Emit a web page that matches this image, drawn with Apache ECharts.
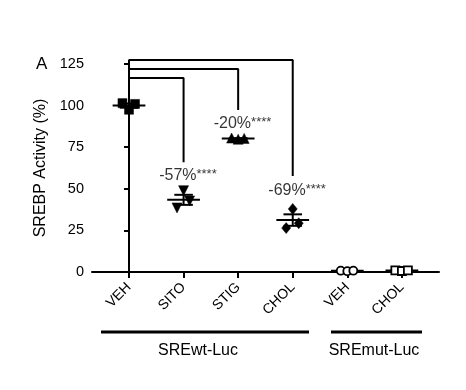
<!DOCTYPE html>
<html><head><meta charset="utf-8">
<script src="https://cdn.jsdelivr.net/npm/echarts@6/dist/echarts.min.js"></script>
<style>html,body{margin:0;padding:0;background:#fff}#c{width:466px;height:390px}</style>
</head><body><div id="c"></div>
<script>
// ---- data ----
var categories = ['VEH','SITO','STIG','CHOL','VEH','CHOL'];
var groups = ['SREwt-Luc','SREmut-Luc'];
var vehWt  = [101.5, 97.5, 101.0];
var sitoWt = [38.5, 48.9, 42.7];
var stigWt = [80.5, 79.8, 80.3];
var cholWt = [26.4, 37.9, 29.3];
var vehMut = [0.8, 0.5, 0.8];
var cholMut= [1.0, 0.6, 1.0];
var jitter = [-0.12, 0.0, 0.11];
var yTicks = [0, 25, 50, 75, 100, 125];
var annotations = [
  {cat:1, y:57.7, pct:'-57%', stars:'****'},
  {cat:2, y:89.0, pct:'-20%', stars:'****'},
  {cat:3, y:48.7, pct:'-69%', stars:'****'}
];
// bracket: from cat 0 to cat `to`, top level, bottom of target leg
var brackets = [
  {to:1, top:116.6, vehBottom:111, toBottom:66},
  {to:2, top:122.0, vehBottom:111, toBottom:97.4},
  {to:3, top:127.4, vehBottom:111, toBottom:57.7}
];

var sets = [vehWt, sitoWt, stigWt, cholWt, vehMut, cholMut];
function mean(a){return a.reduce(function(s,v){return s+v;},0)/a.length;}
function sem(a){var m=mean(a);var v=a.reduce(function(s,x){return s+(x-m)*(x-m);},0)/(a.length-1);return Math.sqrt(v/a.length);}

var markers = [
  {symbol:'rect', size:9, rot:0, fill:'#000'},
  {symbol:'triangle', size:10, rot:180, fill:'#000'},
  {symbol:'triangle', size:10, rot:0, fill:'#000'},
  {symbol:'diamond', size:[9,11], rot:0, fill:'#000'},
  {symbol:'circle', size:8, rot:0, fill:'#fff'},
  {symbol:'rect', size:8, rot:0, fill:'#fff'}
];

var series = [];
// mean & SEM bars
var statData = sets.map(function(a,i){return [i, mean(a), sem(a)];});
series.push({
  type:'custom', clip:false, z:2,
  data: statData,
  renderItem: function(params, api){
    var x = api.value(0), m = api.value(1), s = api.value(2);
    var p1 = api.coord([x-0.3, m]), p2 = api.coord([x+0.3, m]);
    var t1 = api.coord([x-0.17, m+s]), t2 = api.coord([x+0.17, m+s]);
    var b1 = api.coord([x-0.17, m-s]), b2 = api.coord([x+0.17, m-s]);
    var st = {stroke:'#000', lineWidth:2};
    var cx = t1[0]+(t2[0]-t1[0])/2;
    return {type:'group', children:[
      {type:'line', shape:{x1:p1[0],y1:p1[1],x2:p2[0],y2:p2[1]}, style:st},
      {type:'line', shape:{x1:t1[0],y1:t1[1],x2:t2[0],y2:t2[1]}, style:st},
      {type:'line', shape:{x1:b1[0],y1:b1[1],x2:b2[0],y2:b2[1]}, style:st},
      {type:'line', shape:{x1:cx,y1:t1[1],x2:cx,y2:b1[1]}, style:st}
    ]};
  }
});
// points
sets.forEach(function(a,i){
  var mk = markers[i];
  series.push({
    type:'scatter', z:3, clip:false,
    symbol: mk.symbol, symbolSize: mk.size, symbolRotate: mk.rot,
    itemStyle:{color:mk.fill, borderColor:'#000', borderWidth: mk.fill==='#fff'?1.8:0.5, opacity:1},
    data: a.map(function(v,k){return [i + jitter[k], v];})
  });
});
// brackets
brackets.forEach(function(b){
  series.push({
    type:'line', clip:false, symbol:'none', z:1, animation:false,
    lineStyle:{color:'#000', width:2},
    data:[[0,b.vehBottom],[0,b.top],[b.to,b.top],[b.to,b.toBottom]]
  });
});
// annotations
series.push({
  type:'scatter', symbolSize:0, z:4, clip:false,
  data: annotations.map(function(a){return {value:[a.cat+0.08, a.y], pct:a.pct, stars:a.stars};}),
  label:{show:true, position:'inside', color:'#000',
    formatter:function(p){return '{a|'+p.data.pct+'}{s|'+p.data.stars+'}';},
    rich:{a:{fontSize:16, fontFamily:'Liberation Sans', color:'#000'},
          s:{fontSize:13, fontFamily:'Liberation Sans', color:'#000', padding:[0,0,3,0]}}}
});

var option = {
  animation:false,
  backgroundColor:'#fff',
  grid:{left:92, right:27, top:64, bottom:118, containLabel:false},
  xAxis:{type:'value', min:-0.678, max:5.68,
    splitLine:{show:false},
    axisLine:{show:true, onZero:false, lineStyle:{color:'#000', width:2}},
    axisTick:{show:true, customValues:[0,1,2,3,4,5], length:6, lineStyle:{color:'#000', width:2}},
    axisLabel:{customValues:[0,1,2,3,4,5], rotate:45, margin:13, fontSize:14, fontFamily:'Liberation Sans', color:'#000',
      formatter:function(v){return categories[Math.round(v)];}}
  },
  yAxis:{type:'value', min:0, max:125, interval:25,
    name:'SREBP Activity (%)', nameLocation:'middle', nameGap:40,
    nameTextStyle:{fontSize:16, fontFamily:'Liberation Sans', color:'#000'},
    splitLine:{show:false},
    axisLine:{show:true, lineStyle:{color:'#000', width:2}},
    axisTick:{show:true, length:5, lineStyle:{color:'#000', width:2}},
    axisLabel:{fontSize:14.5, margin:8, fontFamily:'Liberation Sans', color:'#000',
      customValues: yTicks}
  },
  graphic:[
    {type:'text', left:36, top:56, style:{text:'A', fontSize:17, fontFamily:'Liberation Sans', fill:'#000'}},
    {type:'line', shape:{x1:101,y1:332,x2:309,y2:332}, style:{stroke:'#000', lineWidth:3}},
    {type:'line', shape:{x1:331,y1:332,x2:422,y2:332}, style:{stroke:'#000', lineWidth:3}},
    {type:'text', x:198, y:351, style:{text:groups[0], fontSize:16, fontFamily:'Liberation Sans', fill:'#000', align:'center', verticalAlign:'middle'}},
    {type:'text', x:374, y:351, style:{text:groups[1], fontSize:16, fontFamily:'Liberation Sans', fill:'#000', align:'center', verticalAlign:'middle'}}
  ],
  series: series
};
var chart = echarts.init(document.getElementById('c'));
chart.setOption(option);
</script></body></html>
